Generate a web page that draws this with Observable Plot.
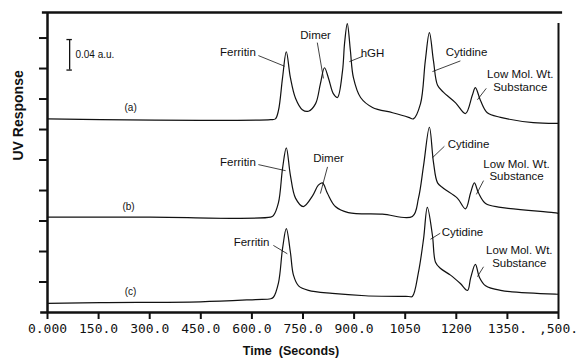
<!DOCTYPE html>
<html>
<head>
<meta charset="utf-8">
<script src="https://cdn.jsdelivr.net/npm/d3@7"></script>
<script src="https://cdn.jsdelivr.net/npm/@observablehq/plot@0.6"></script>
<style>
  html, body { margin: 0; padding: 0; background: #fff; }
  #chart svg { display: block; }
  #chart [aria-label^="x-axis"] text { font-family: "DejaVu Sans Mono", monospace; font-size: 13px; }
  #chart [aria-label^="x-axis"] path, #chart [aria-label^="x-axis"] line,
  #chart [aria-label^="y-axis"] path, #chart [aria-label^="y-axis"] line { stroke-width: 2; stroke: #111; }
</style>
</head>
<body>
<div id="chart"></div>
<script>
// X axis ticks (seconds) and their printed labels
const xTicks = [0, 150, 300, 450, 600, 750, 900, 1050, 1200, 1350, 1500];
const xTickLabels = ["0.000", "150.0", "300.0", "450.0", "600.0", "750.0", "900.0", "1050", "1200", "1350.", ",500."];
// Y axis ticks (a.u.), unlabeled, 0.04 a.u. apart
const yTicks = [0.04, 0.08, 0.12, 0.16, 0.20, 0.24, 0.28, 0.32, 0.36];

// Trace (a)
const timeA = [0,156,449,655,669,678,690,701,713,728,748,766,787,801,813,825,839,851,866,872,880,889,898,919,954,1013,1060,1074,1095,1109,1121,1133,1145,1162,1198,1227,1247,1256,1271,1291,1330,1426,1500];
const respA = [0.254,0.253,0.252,0.253,0.254,0.265,0.308,0.342,0.308,0.281,0.266,0.264,0.274,0.300,0.321,0.307,0.287,0.282,0.317,0.353,0.379,0.344,0.308,0.282,0.269,0.262,0.256,0.254,0.274,0.330,0.367,0.330,0.298,0.289,0.275,0.261,0.285,0.295,0.278,0.262,0.256,0.249,0.248];
// Trace (b)
const timeB = [0,302,655,663,678,690,701,713,728,751,778,795,807,822,845,883,983,1071,1089,1104,1121,1133,1145,1162,1203,1227,1242,1253,1265,1286,1330,1485,1500];
const respB = [0.125,0.125,0.125,0.127,0.144,0.189,0.216,0.180,0.150,0.139,0.153,0.167,0.170,0.156,0.139,0.131,0.129,0.126,0.150,0.193,0.243,0.197,0.170,0.163,0.150,0.136,0.157,0.170,0.157,0.143,0.138,0.131,0.130];
// Trace (c)
const timeC = [0,156,449,611,655,663,678,690,701,713,722,737,766,836,933,1060,1071,1089,1104,1115,1130,1139,1153,1183,1212,1233,1242,1256,1268,1286,1330,1491,1500];
const respC = [0.012,0.013,0.014,0.017,0.018,0.020,0.039,0.084,0.110,0.079,0.049,0.035,0.029,0.025,0.022,0.021,0.021,0.053,0.097,0.138,0.101,0.066,0.058,0.049,0.038,0.029,0.045,0.063,0.046,0.035,0.029,0.024,0.024];

// Peak annotations
const labelText = ["Ferritin","Dimer","hGH","Cytidine","Low Mol. Wt.","Substance","Ferritin","Dimer","Cytidine","Low Mol. Wt.","Substance","Ferritin","Cytidine","Low Mol. Wt.","Substance"];
const labelT = [559,787,954,1230,1388,1388,559,825,1236,1377,1377,599,1218,1385,1385];
const labelV = [0.341,0.363,0.340,0.341,0.313,0.295,0.197,0.202,0.220,0.195,0.178,0.092,0.105,0.081,0.064];
// Leader lines
const leadT1 = [619,792,925,1212,1288,619,822,1165,1280,663,1153,1280];
const leadV1 = [0.337,0.354,0.336,0.330,0.294,0.194,0.191,0.218,0.173,0.088,0.104,0.060];
const leadT2 = [696,810,886,1130,1262,699,801,1130,1259,704,1124,1262];
const leadV2 = [0.323,0.307,0.329,0.316,0.279,0.186,0.156,0.203,0.155,0.077,0.096,0.047];
// Trace names
const traceNames = ["(a)", "(b)", "(c)"];
const traceT = [244, 238, 244];
const traceV = [0.268, 0.138, 0.0275];
// Scale bar (0.04 a.u.)
const scaleBarT = [65];
const scaleBarLow = [0.318];
const scaleBarHigh = [0.358];
const scaleBarText = ["0.04 a.u."];

const series = [
  ...timeA.map((t, i) => ({trace: "a", t, v: respA[i]})),
  ...timeB.map((t, i) => ({trace: "b", t, v: respB[i]})),
  ...timeC.map((t, i) => ({trace: "c", t, v: respC[i]}))
];
const labels = labelText.map((s, i) => ({s, t: labelT[i], v: labelV[i]}));
const leaders = leadT1.map((t, i) => ({t1: t, v1: leadV1[i], t2: leadT2[i], v2: leadV2[i]}));
const names = traceNames.map((s, i) => ({s, t: traceT[i], v: traceV[i]}));
const bars = scaleBarT.map((t, i) => ({t, lo: scaleBarLow[i], hi: scaleBarHigh[i], s: scaleBarText[i]}));

const ink = "#111";
const yMax = 0.3935;

const chart = Plot.plot({
  width: 577,
  height: 362,
  marginLeft: 47,
  marginRight: 19,
  marginTop: 12,
  marginBottom: 50,
  style: {fontFamily: "'Liberation Sans', Arial, sans-serif", fontSize: "11px", background: "#fff", color: ink, overflow: "visible"},
  x: {domain: [0, 1500], ticks: xTicks, tickFormat: d => xTickLabels[xTicks.indexOf(d)], tickSize: 7, tickPadding: 4, label: null},
  y: {domain: [0, yMax], ticks: yTicks, tickFormat: () => "", tickSize: 8, label: null},
  marks: [
    Plot.ruleY([0], {x1: -20, x2: 1500, stroke: ink, strokeWidth: 2.5}),
    Plot.ruleX([0], {y1: 0, y2: yMax, stroke: ink, strokeWidth: 2.5}),
    Plot.ruleY([yMax], {x1: -15, x2: 1512, stroke: ink, strokeWidth: 2.5}),
    Plot.ruleX([1500], {y1: 0, y2: 0.379, stroke: ink, strokeWidth: 2}),
    Plot.line(series, {x: "t", y: "v", z: "trace", stroke: ink, strokeWidth: 1.2, curve: "catmull-rom"}),
    Plot.link(leaders, {x1: "t1", y1: "v1", x2: "t2", y2: "v2", stroke: ink, strokeWidth: 0.8}),
    Plot.text(labels, {x: "t", y: "v", text: "s", fontSize: 11.5, fill: ink}),
    Plot.text(names, {x: "t", y: "v", text: "s", fontSize: 10, fill: ink}),
    Plot.ruleX(bars, {x: "t", y1: "lo", y2: "hi", stroke: ink, strokeWidth: 1.3}),
    Plot.ruleY(bars, {y: "lo", x1: d => d.t - 8, x2: d => d.t + 8, stroke: ink, strokeWidth: 1.3}),
    Plot.ruleY(bars, {y: "hi", x1: d => d.t - 8, x2: d => d.t + 8, stroke: ink, strokeWidth: 1.3}),
    Plot.text(bars, {x: d => d.t + 17, y: d => (d.lo + d.hi) / 2, text: "s", textAnchor: "start", fontSize: 10, fill: ink}),
    Plot.text(["Time  (Seconds)"], {frameAnchor: "bottom", dx: -12, dy: 42, fontSize: 12.5, fontWeight: "bold", fill: ink}),
    Plot.text(["UV Response"], {frameAnchor: "left", dx: -29, dy: -2, rotate: -90, fontSize: 14, fontWeight: "bold", fill: ink})
  ]
});
document.getElementById("chart").appendChild(chart);
</script>
</body>
</html>
